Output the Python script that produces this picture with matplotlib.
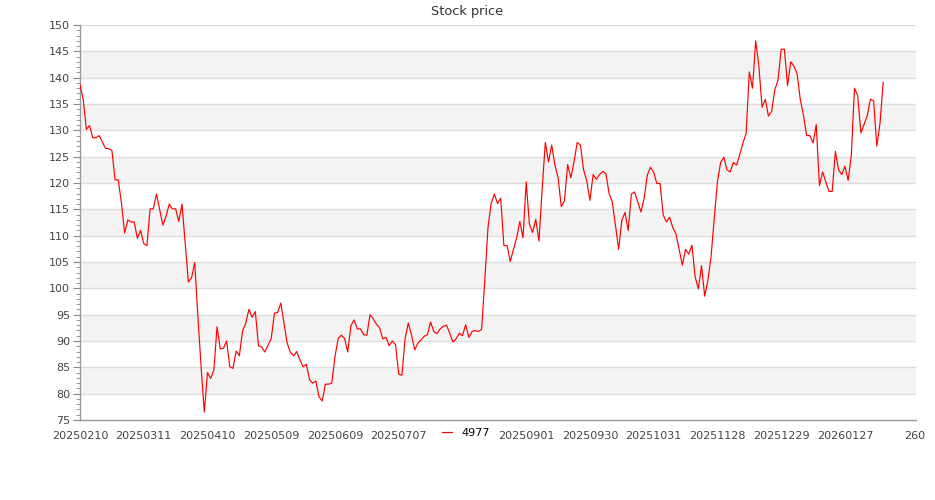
import matplotlib
matplotlib.use("Agg")
import matplotlib.pyplot as plt
from matplotlib.ticker import MultipleLocator, FixedLocator
import matplotlib.transforms as mtransforms
import numpy as np

title = "Stock price"
series_name = "4977"

prices = [
    138.7, 135.9, 130.2, 130.9, 128.6, 128.6, 129.0, 127.8, 126.6, 126.5,
    126.2, 120.6, 120.6, 116.2, 110.5, 113.0, 112.6, 112.6, 109.5, 111.0,
    108.5, 108.1, 115.1, 115.1, 117.9, 114.9, 112.0, 113.7, 116.0, 115.1,
    115.1, 112.7, 116.0, 108.5, 101.2, 102.0, 104.9, 94.5, 85.1, 76.5,
    84.0, 82.9, 84.5, 92.7, 88.5, 88.6, 90.0, 85.1, 84.8, 88.1,
    87.2, 91.9, 93.4, 96.0, 94.5, 95.6, 89.1, 88.9, 87.9, 89.2,
    90.5, 95.3, 95.4, 97.2, 93.4, 89.6, 87.8, 87.2, 88.0, 86.4,
    85.1, 85.6, 82.7, 82.0, 82.4, 79.4, 78.6, 81.8, 81.8, 82.0,
    87.0, 90.5, 91.1, 90.5, 87.9, 92.9, 94.0, 92.3, 92.3, 91.2,
    91.1, 95.0, 94.2, 93.2, 92.5, 90.4, 90.7, 89.1, 90.0, 89.3,
    83.7, 83.5, 90.5, 93.4, 91.2, 88.3, 89.6, 90.2, 90.9, 91.2,
    93.6, 91.8, 91.4, 92.3, 92.8, 93.0, 91.5, 89.8, 90.4, 91.5,
    91.0, 93.1, 90.7, 91.8, 92.0, 91.8, 92.2, 101.4, 111.5, 116.1,
    117.9, 116.1, 117.1, 108.1, 108.1, 105.1, 107.4, 109.6, 112.7, 109.6,
    120.2, 112.2, 110.6, 113.1, 109.0, 118.8, 127.7, 124.0, 127.2, 123.4,
    121.0, 115.5, 116.6, 123.5, 121.0, 124.0, 127.7, 127.2, 122.5, 120.4,
    116.7, 121.6, 120.7, 121.6, 122.2, 121.8, 118.0, 116.4, 112.0, 107.4,
    112.9, 114.4, 111.0, 117.9, 118.3, 116.4, 114.5, 117.1, 121.5, 123.0,
    122.0, 119.9, 119.9, 113.9, 112.6, 113.5, 111.5, 110.3, 107.4, 104.4,
    107.4, 106.5, 108.2, 102.2, 99.9, 104.3, 98.5, 101.5, 106.0, 113.3,
    120.2, 123.9, 124.9, 122.5, 122.1, 123.9, 123.4, 125.4, 127.6, 129.4,
    141.1, 138.0, 147.0, 142.2, 134.4, 135.9, 132.7, 133.6, 137.7, 139.5,
    145.4, 145.4, 138.5, 143.0, 142.2, 140.7, 135.8, 132.8, 129.0, 129.0,
    127.6, 131.1, 119.5, 122.1, 120.2, 118.4, 118.4, 126.0, 122.5, 121.6,
    123.2, 120.5, 125.2, 138.0, 136.6, 129.5, 131.1, 132.8, 135.9, 135.6,
    127.0, 131.3, 139.1,
]

tick_positions = [0, 20, 40, 60, 80, 100, 120, 140, 160, 180, 200, 220, 240, 260]
# the label at index 120 is hidden behind the legend in the reference
tick_labels = ["20250210", "20250311", "20250410", "20250509", "20250609",
               "20250707", "", "20250901", "20250930", "20251031",
               "20251128", "20251229", "20260127", "260"]

fig = plt.figure(figsize=(9.35, 5.0), dpi=100)
ax = fig.add_axes([80/935, 1-420/500, (916-80)/935, (420-25)/500])

ymin, ymax = 75, 150
for lo in range(80, 145, 10):
    ax.axhspan(lo, lo + 5, color="#f3f3f3", zorder=0, lw=0)
for yv in range(80, 151, 5):
    ax.axhline(yv, color="#dddddd", lw=1.0, zorder=1)

x = np.arange(len(prices))
ax.plot(x, prices, color="#ff0000", lw=0.85, zorder=3, label=series_name)

ax.set_xlim(0, 262.3)
ax.set_ylim(ymin, ymax)

ax.yaxis.set_major_locator(MultipleLocator(5))
ax.yaxis.set_minor_locator(MultipleLocator(1))
ax.xaxis.set_major_locator(FixedLocator(tick_positions))
ax.set_xticklabels(tick_labels)

for s in ["top", "right"]:
    ax.spines[s].set_visible(False)
for s in ["left", "bottom"]:
    ax.spines[s].set_color("#999999")
    ax.spines[s].set_linewidth(1.0)

ax.tick_params(axis="y", which="major", length=5, color="#888888", labelsize=8,
               labelcolor="#444444", pad=2)
ax.tick_params(axis="y", which="minor", length=3, color="#888888")
ax.tick_params(axis="x", which="major", length=0, labelsize=8,
               labelcolor="#444444", pad=8)

lbls = ax.get_xticklabels()
off = mtransforms.ScaledTranslation(6/100, 0, fig.dpi_scale_trans)
lbls[-1].set_transform(lbls[-1].get_transform() + off)

fig.text(467/935, 1-12/500, title, ha="center", va="center", fontsize=9.3,
         color="#333333")

leg = fig.legend(loc="center", bbox_to_anchor=(466/935, 1-433/500),
                 frameon=True, fontsize=8, handlelength=0.9, handletextpad=0.9,
                 borderpad=0.3, borderaxespad=0)
leg.get_frame().set_facecolor("white")
leg.get_frame().set_edgecolor("white")
leg.get_frame().set_alpha(1.0)
leg.set_zorder(10)

fig.savefig("out.png", dpi=100)
